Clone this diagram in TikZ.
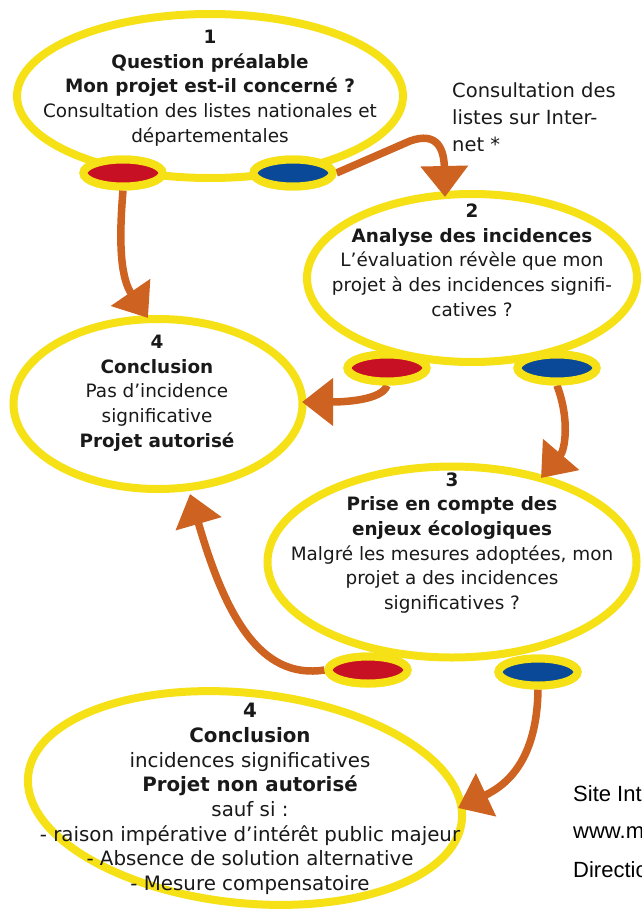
\documentclass[tikz,border=0pt]{standalone}
\usepackage{fontspec}
\setmainfont{DejaVu Sans}
\newfontfamily\arialfont{Liberation Sans}
\usetikzlibrary{shapes.geometric,arrows.meta}
\definecolor{ring}{RGB}{246,225,22}
\definecolor{redfill}{RGB}{200,16,36}
\definecolor{bluefill}{RGB}{10,72,152}
\definecolor{arrowc}{RGB}{206,98,32}
\definecolor{txt}{RGB}{25,25,25}
\begin{document}
\begin{tikzpicture}[x=1pt,y=-1pt,
  bigell/.style={ellipse, draw=ring, line width=8pt, inner sep=0pt},
  redpad/.style={ellipse, draw=ring, line width=8pt, fill=redfill, minimum width=79pt, minimum height=27pt, inner sep=0pt},
  bluepad/.style={redpad, fill=bluefill},
  flow/.style={draw=arrowc, line width=7.5pt, -{Triangle[length=31pt,width=46pt]}},
  bodytext/.style={align=center, text=txt, font=\fontsize{18.4}{24.7}\selectfont, inner sep=0pt},
  bigbody/.style={bodytext, font=\fontsize{19.8}{24.7}\selectfont},
  sidetext/.style={align=left, anchor=west, text=txt, font=\fontsize{19.5}{27}\selectfont, inner sep=0pt},
  webtext/.style={anchor=west, text=black, font=\arialfont\fontsize{22}{22}\selectfont, inner sep=0pt}
]
\useasboundingbox (0,0) rectangle (642,910);
\clip (0,0) rectangle (642,910);
\fill[white] (0,0) rectangle (642,910);

% big ellipses
\node[bigell, minimum width=386pt, minimum height=164pt] (e1) at (210,96) {};
\node[bigell, minimum width=330pt, minimum height=168pt] (e2) at (472,278) {};
\node[bigell, minimum width=289pt, minimum height=170pt] (e4a) at (158,404) {};
\node[bigell, minimum width=369pt, minimum height=191pt] (e3) at (452,562) {};
\node[bigell, minimum width=436pt, minimum height=210pt, rotate=-6] (e4b) at (245,798) {};

% pads
\node[redpad] (r1) at (123,173) {};
\node[bluepad] (b1) at (293,173) {};
\node[redpad] (r2) at (387,368) {};
\node[bluepad] (b2) at (557,368) {};
\node[redpad] (r3) at (368,670) {};
\node[bluepad] (b3) at (538,672) {};

% arrow tips
\coordinate (tip2) at (445,197);
\coordinate (tip4a) at (148,318);
\coordinate (tip4aR) at (302,402);
\coordinate (tip3) at (541,478);
\coordinate (tip4aB) at (190,494);
\coordinate (tip4b) at (458,808);

% arrows
\draw[flow] (b1.east) -- (410,141) .. controls (438,131) and (444,150) .. (tip2);
\draw[flow] (r1.south) .. controls (118,250) and (122,280) .. (tip4a);
\draw[flow] (r2.south) .. controls (382,400) and (345,402) .. (tip4aR);
\draw[flow] (b2.south) .. controls (570,420) and (565,450) .. (tip3);
\draw[flow] (r3.west) .. controls (260,680) and (225,615) .. (tip4aB);
\draw[flow] (b3.south) .. controls (537,760) and (507,785) .. (tip4b);

% pads redrawn on top of arrow starts
\node[redpad] at (r1) {};
\node[bluepad] at (b1) {};
\node[redpad] at (r2) {};
\node[bluepad] at (b2) {};
\node[redpad] at (r3) {};
\node[bluepad] at (b3) {};

% texts
\node[bodytext] (t1) at (210,88) {\textbf{1}\\\textbf{Question préalable}\\\textbf{Mon projet est-il concerné ?}\\Consultation des listes nationales et\\départementales};
\node[bodytext] (t2) at (472,260) {\textbf{2}\\\textbf{Analyse des incidences}\\L’évaluation révèle que mon\\projet à des incidences signifi-\\catives ?};
\node[bodytext] (t4a) at (157,393) {\textbf{4}\\\textbf{Conclusion}\\Pas d’incidence\\significative\\\textbf{Projet autorisé}};
\node[bodytext] (t3) at (452,543) {\textbf{3}\\\textbf{Prise en compte des}\\\textbf{enjeux écologiques}\\Malgré les mesures adoptées, mon\\projet a des incidences\\significatives ?};
\node[bigbody] (t4b) at (250,799) {\textbf{4}\\\textbf{Conclusion}\\incidences significatives\\\textbf{Projet non autorisé}\\sauf si :\\- raison impérative d’intérêt public majeur\\- Absence de solution alternative\\- Mesure compensatoire};
\node[sidetext] (side) at (452,117) {Consultation des\\listes sur Inter-\\net *};
\node[webtext] (w1) at (573,794) {Site Int};
\node[webtext] (w2) at (573,833) {www.m};
\node[webtext] (w3) at (573,870) {Directio};
\end{tikzpicture}
\end{document}
